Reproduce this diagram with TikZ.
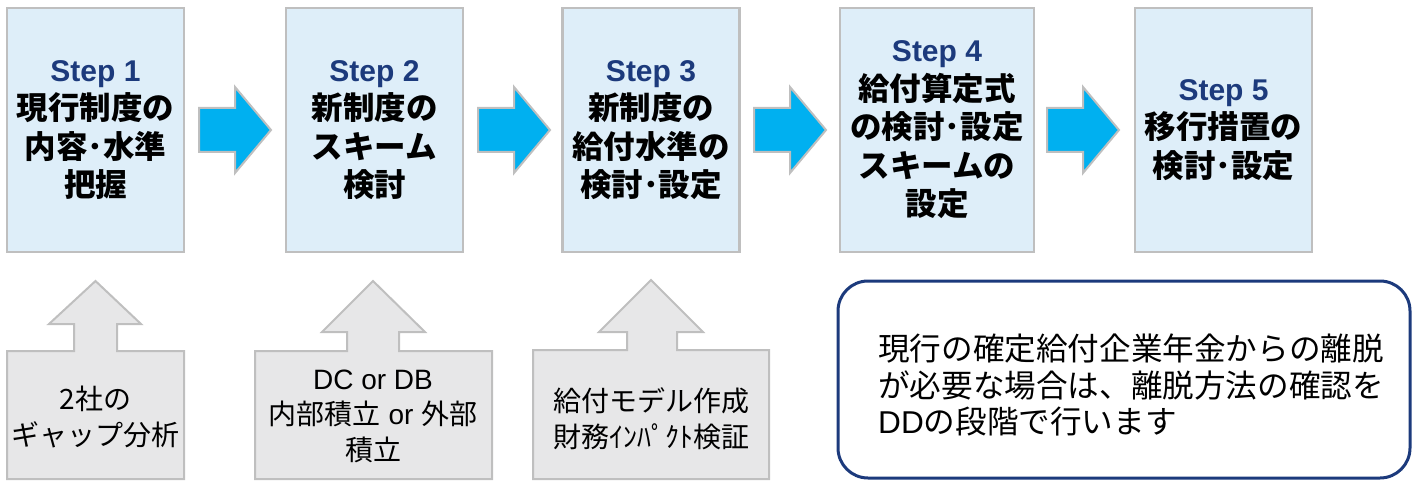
\documentclass[tikz,border=0pt]{standalone}
\usepackage{fontspec}
\setmainfont{Noto Sans CJK JP}
\newfontfamily\lat{Liberation Sans}
\definecolor{stepfill}{HTML}{DEEEF9}
\definecolor{boxgray}{HTML}{BFBFBF}
\definecolor{navy}{HTML}{1C3A7C}
\definecolor{arrowblue}{HTML}{00B0F0}
\definecolor{lowfill}{HTML}{E7E7E8}
\newcommand\steptitle[1]{{\lat\fontsize{30}{38.5}\selectfont\color{navy}#1}}
\begin{document}
\begin{tikzpicture}[x=1pt,y=-1pt,
  stepbox/.style={draw=boxgray, line width=2.5pt, fill=stepfill, minimum width=177pt,
    minimum height=244pt, inner sep=0pt, align=center,
    font=\bfseries\fontsize{31.5}{38.5}\selectfont},
  blockarrow/.style={draw=boxgray, line width=2pt, fill=arrowblue, line join=miter},
  lowshape/.style={draw=boxgray, line width=2pt, fill=lowfill, line join=miter},
  lowtext/.style={align=center, inner sep=0pt, font=\fontsize{28}{35.5}\selectfont},
  notebox/.style={draw=navy, line width=3pt, fill=white, rounded corners=30pt}]
\useasboundingbox (0,0) rectangle (1418,481);
% step boxes
\node[stepbox] (s1) at (95.5,130) {\steptitle{Step 1}\\現行制度の\\内容･水準\\把握};
\node[stepbox] (s2) at (374.5,130) {\steptitle{Step 2}\\新制度の\\スキーム\\検討};
\node[stepbox] (s3) at (651,130) {\steptitle{Step 3}\\新制度の\\給付水準の\\検討･設定};
\node[stepbox, minimum width=194pt] (s4) at (937,130) {\steptitle{Step 4}\\給付算定式\\の検討･設定\\スキームの\\設定};
\node[stepbox] (s5) at (1223.5,130) {\steptitle{Step 5}\\移行措置の\\検討･設定};
% right arrows
\foreach \x in {199,478,754,1047}
  \draw[blockarrow] (\x,108) -- ({\x+36},108) -- ({\x+36},87) -- ({\x+72},130)
    -- ({\x+36},173) -- ({\x+36},152) -- (\x,152) -- cycle;
% lower shapes with up arrows
\draw[lowshape] (7,479) -- (7,351) -- (74,351) -- (74,324) -- (49,324) -- (95.5,281)
  -- (141,324) -- (117,324) -- (117,351) -- (184,351) -- (184,479) -- cycle;
\draw[lowshape] (255,479) -- (255,351) -- (347,351) -- (347,332) -- (322,332) -- (373,281)
  -- (425,332) -- (399,332) -- (399,351) -- (492,351) -- (492,479) -- cycle;
\draw[lowshape] (533,479) -- (533,350) -- (627,350) -- (627,332) -- (599,332) -- (651,280)
  -- (703,332) -- (677,332) -- (677,350) -- (769,350) -- (769,479) -- cycle;
\node[lowtext] (b1) at (95.5,417) {2社の\\ギャップ分析};
\node[lowtext] (b2) at (373,416) {{\lat DC or DB}\\内部積立{\lat{} or }外部\\積立};
\node[lowtext] (b3) at (651,419) {給付モデル作成\\財務ｲﾝﾊﾟｸﾄ検証};
% note box
\draw[notebox] (838,281) rectangle (1410,478);
\node[anchor=west, align=left, inner sep=0pt, font=\fontsize{31.6}{36.5}\selectfont] (note) at (878,385)
  {現行の確定給付企業年金からの離脱\\が必要な場合は、離脱方法の確認を\\{\lat DD}の段階で行います};
\end{tikzpicture}
\end{document}
